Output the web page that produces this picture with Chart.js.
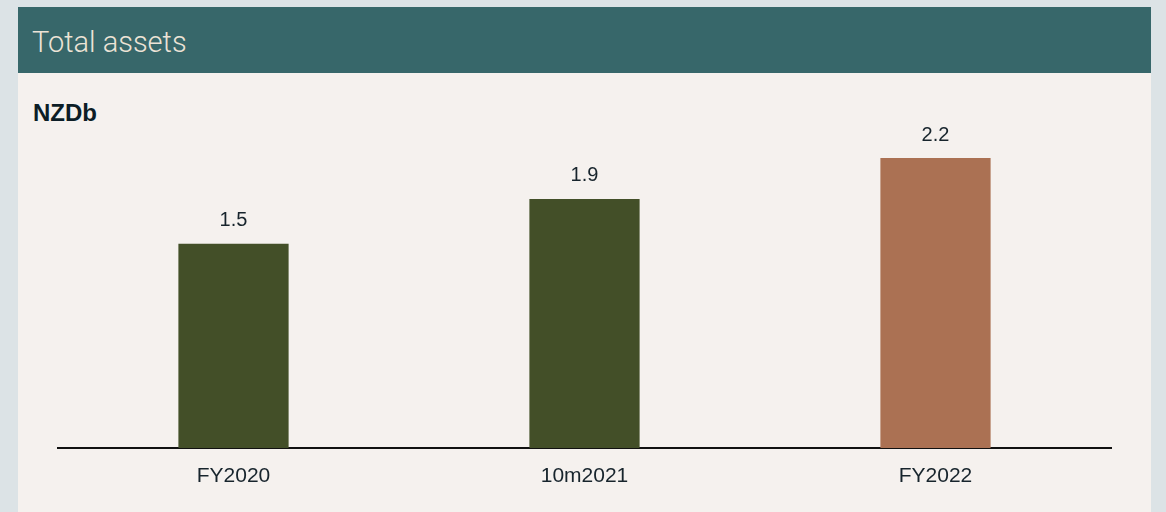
<!DOCTYPE html>
<html>
<head>
<meta charset="utf-8">
<script src="https://cdn.jsdelivr.net/npm/chart.js@4"></script>
<style>
  body { margin: 0; background: #dce3e6; width: 1166px; height: 512px; overflow: hidden; font-family: "Liberation Sans", Arial, sans-serif; }
  .panel { position: absolute; left: 18px; top: 7px; width: 1133px; height: 505px; background: #f5f1ee; }
  .header { height: 66px; background: #37676a; color: #ece3d6; font-family: Roboto, "Liberation Sans", sans-serif; font-weight: 300; font-size: 29px; line-height: 70px; padding-left: 14px; }
  .unit { position: absolute; left: 15px; top: 92px; font-weight: bold; font-size: 24px; color: #0c1d26; }
  .wrap { position: absolute; left: 0; top: 66px; width: 1133px; height: 439px; }
</style>
</head>
<body>
<div class="panel">
  <div class="header">Total assets</div>
  <div class="unit">NZDb</div>
  <div class="wrap"><canvas id="myChart"></canvas></div>
</div>
<script>
const categories = ['FY2020', '10m2021', 'FY2022'];
const assetValues = [1.55, 1.89, 2.2];
const valueLabels = ['1.5', '1.9', '2.2'];
const barColors = ['#434f28', '#434f28', '#ab7153'];

// draws the value above each bar
const topLabels = {
  id: 'topLabels',
  afterDatasetsDraw(chart) {
    const ctx = chart.ctx;
    const meta = chart.getDatasetMeta(0);
    ctx.save();
    ctx.font = '20px "Liberation Sans", Arial, sans-serif';
    ctx.fillStyle = '#17242c';
    ctx.textAlign = 'center';
    ctx.textBaseline = 'middle';
    meta.data.forEach((bar, i) => {
      ctx.fillText(valueLabels[i], bar.x, bar.y - 23);
    });
    ctx.restore();
  }
};

var ctx = document.getElementById('myChart').getContext('2d');
var myChart = new Chart(ctx, {
  type: 'bar',
  data: {
    labels: categories,
    datasets: [{
      label: 'Total assets',
      data: assetValues,
      backgroundColor: barColors,
      categoryPercentage: 1,
      barPercentage: 0.314
    }]
  },
  options: {
    responsive: true,
    maintainAspectRatio: false,
    animation: false,
    layout: {
      padding: { left: 40, right: 40, top: 45.5, bottom: 0 }
    },
    plugins: {
      legend: { display: false },
      tooltip: { enabled: false }
    },
    scales: {
      x: {
        grid: { display: false, drawTicks: false },
        border: { display: true, color: '#111111', width: 2 },
        ticks: {
          color: '#17242c',
          padding: 16,
          font: { family: '"Liberation Sans", Arial, sans-serif', size: 21 }
        },
        afterFit(scale) { scale.height = 64; }
      },
      y: {
        display: false,
        min: 0,
        max: 2.5
      }
    }
  },
  plugins: [topLabels]
});
</script>
</body>
</html>
